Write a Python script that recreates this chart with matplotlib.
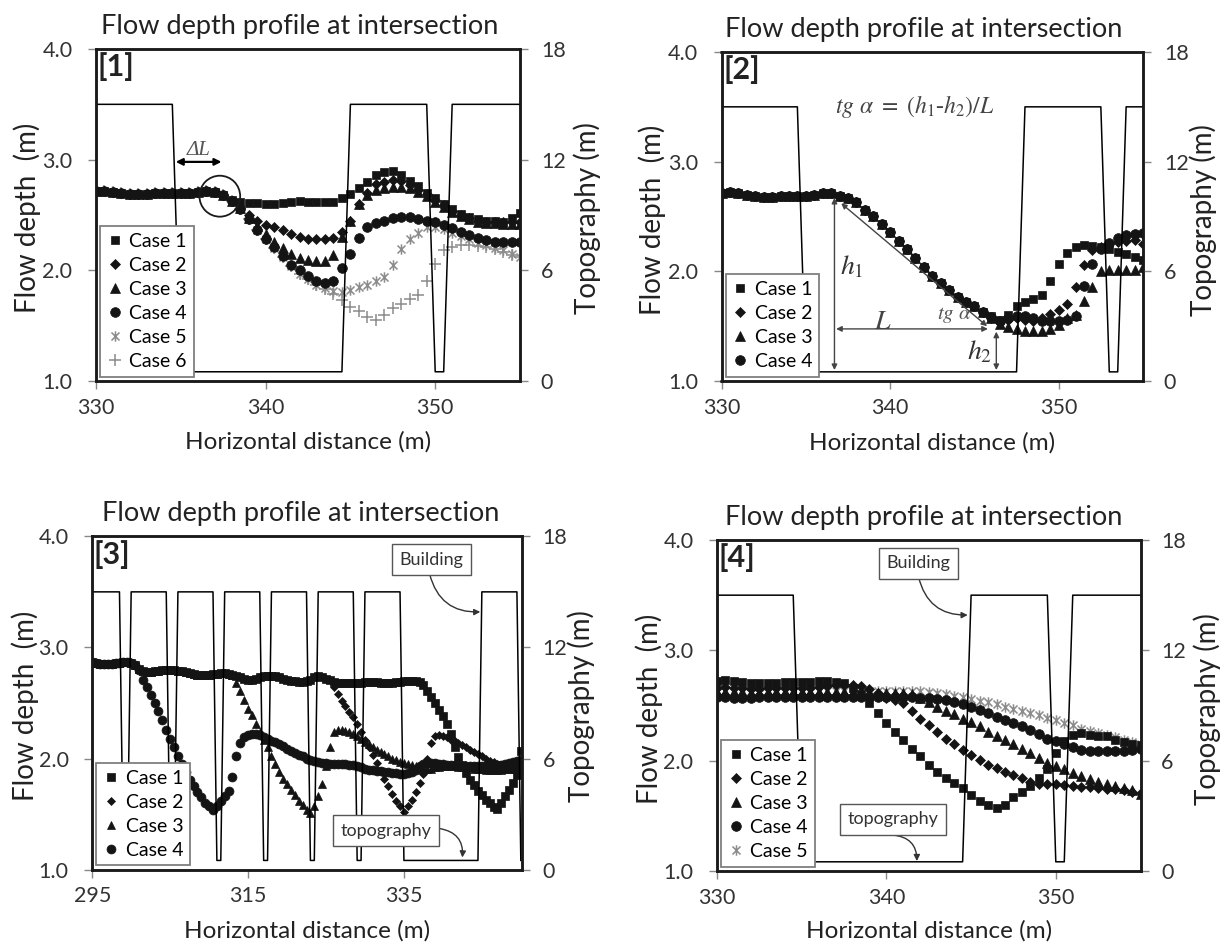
import numpy as np
import matplotlib
matplotlib.use("Agg")
import matplotlib.pyplot as plt
from matplotlib.patches import Ellipse
from matplotlib.path import Path
from matplotlib.ticker import FormatStrFormatter

plt.rcParams['font.family'] = ['Lato', 'DejaVu Sans']
plt.rcParams['mathtext.fontset'] = 'stix'

# ---------------- text ----------------
TITLE = "Flow depth profile at intersection"
XLABEL = "Horizontal distance (m)"
YLABEL = "Flow depth  (m)"
Y2LABEL = "Topography (m)"
CASE_LABELS = ["Case 1", "Case 2", "Case 3", "Case 4", "Case 5", "Case 6"]

# ---------------- panel 1 (x = 330 ... 355 every 0.5 m) ----------------
P1_X = np.arange(330.0, 355.01, 0.5)
P1_C1 = [2.72, 2.72, 2.71, 2.70, 2.69, 2.69, 2.69, 2.70, 2.70, 2.70,
         2.70, 2.70, 2.71, 2.72, 2.71, 2.68, 2.64, 2.62, 2.61, 2.61,
         2.60, 2.60, 2.61, 2.62, 2.63, 2.62, 2.62, 2.62, 2.62, 2.65,
         2.69, 2.74, 2.80, 2.86, 2.89, 2.90, 2.86, 2.81, 2.76, 2.70,
         2.65, 2.60, 2.55, 2.51, 2.48, 2.46, 2.45, 2.45, 2.44, 2.47,
         2.52]
P1_C2 = [2.72, 2.72, 2.71, 2.70, 2.69, 2.69, 2.69, 2.70, 2.70, 2.70,
         2.70, 2.70, 2.71, 2.72, 2.71, 2.68, 2.63, 2.56, 2.50, 2.45,
         2.41, 2.39, 2.36, 2.33, 2.30, 2.28, 2.28, 2.28, 2.29, 2.35,
         2.45, 2.60, 2.70, 2.78, 2.80, 2.82, 2.81, 2.77, 2.73, 2.69,
         2.64, 2.59, 2.54, 2.50, 2.47, 2.45, 2.44, 2.44, 2.44, 2.44,
         2.44]
P1_C3 = [2.72, 2.72, 2.71, 2.70, 2.69, 2.69, 2.69, 2.70, 2.70, 2.70,
         2.70, 2.70, 2.71, 2.72, 2.71, 2.68, 2.63, 2.56, 2.47, 2.40,
         2.33, 2.26, 2.20, 2.15, 2.11, 2.09, 2.08, 2.08, 2.14, 2.30,
         2.45, 2.60, 2.68, 2.73, 2.74, 2.75, 2.75, 2.74, 2.71, 2.67,
         2.62, 2.57, 2.53, 2.49, 2.46, 2.44, 2.43, 2.43, 2.42, 2.42,
         2.42]
P1_C4 = [2.72, 2.72, 2.71, 2.70, 2.69, 2.69, 2.69, 2.70, 2.70, 2.70,
         2.70, 2.70, 2.71, 2.72, 2.71, 2.68, 2.63, 2.55, 2.46, 2.36,
         2.28, 2.21, 2.13, 2.05, 2.00, 1.95, 1.90, 1.89, 1.90, 2.02,
         2.15, 2.29, 2.39, 2.43, 2.45, 2.47, 2.48, 2.48, 2.46, 2.45,
         2.44, 2.41, 2.38, 2.35, 2.32, 2.29, 2.27, 2.26, 2.26, 2.26,
         2.26]
P1_C5 = [2.72, 2.72, 2.71, 2.70, 2.69, 2.69, 2.69, 2.70, 2.70, 2.70,
         2.70, 2.70, 2.71, 2.72, 2.71, 2.68, 2.63, 2.55, 2.46, 2.36,
         2.28, 2.20, 2.12, 2.04, 1.97, 1.92, 1.87, 1.84, 1.81, 1.80,
         1.82, 1.85, 1.87, 1.90, 1.94, 2.05, 2.19, 2.28, 2.34, 2.39,
         2.39, 2.37, 2.34, 2.31, 2.28, 2.25, 2.23, 2.20, 2.18, 2.15,
         2.12]
P1_C6 = [2.72, 2.72, 2.71, 2.70, 2.69, 2.69, 2.69, 2.70, 2.70, 2.70,
         2.70, 2.70, 2.71, 2.72, 2.71, 2.68, 2.63, 2.55, 2.46, 2.36,
         2.28, 2.20, 2.12, 2.04, 1.97, 1.92, 1.87, 1.83, 1.79, 1.73,
         1.67, 1.63, 1.58, 1.55, 1.60, 1.66, 1.70, 1.74, 1.78, 1.90,
         2.06, 2.18, 2.21, 2.23, 2.23, 2.22, 2.21, 2.19, 2.17, 2.14,
         2.12]
P1_TOPO_X = [330, 334.5, 335.0, 344.5, 345.0, 349.5, 350.0, 350.5, 351.0, 355]
P1_TOPO_Z = [15, 15, 0.5, 0.5, 15, 15, 0.5, 0.5, 15, 15]

# ---------------- panel 2 ----------------
P2_X = np.arange(330.0, 355.01, 0.5)
P2_C1 = [2.71, 2.72, 2.71, 2.70, 2.69, 2.68, 2.68, 2.69, 2.69, 2.69,
         2.69, 2.70, 2.71, 2.71, 2.69, 2.67, 2.63, 2.56, 2.50, 2.43,
         2.36, 2.28, 2.20, 2.12, 2.04, 1.96, 1.89, 1.83, 1.77, 1.72,
         1.68, 1.63, 1.59, 1.56, 1.60, 1.68, 1.72, 1.75, 1.78, 1.91,
         2.07, 2.17, 2.22, 2.24, 2.23, 2.22, 2.20, 2.18, 2.16, 2.13,
         2.10]
P2_C2 = [2.71, 2.72, 2.71, 2.70, 2.69, 2.68, 2.68, 2.69, 2.69, 2.69,
         2.69, 2.70, 2.71, 2.71, 2.69, 2.67, 2.63, 2.56, 2.50, 2.43,
         2.36, 2.28, 2.20, 2.12, 2.04, 1.96, 1.89, 1.83, 1.77, 1.72,
         1.68, 1.63, 1.57, 1.54, 1.56, 1.57, 1.56, 1.55, 1.57, 1.61,
         1.65, 1.70, 1.86, 2.06, 2.19, 2.22, 2.25, 2.27, 2.28, 2.29,
         2.25]
P2_C3 = [2.71, 2.72, 2.71, 2.70, 2.69, 2.68, 2.68, 2.69, 2.69, 2.69,
         2.69, 2.70, 2.71, 2.71, 2.69, 2.67, 2.63, 2.56, 2.50, 2.43,
         2.36, 2.28, 2.20, 2.12, 2.04, 1.96, 1.89, 1.83, 1.77, 1.72,
         1.68, 1.63, 1.57, 1.52, 1.49, 1.47, 1.46, 1.46, 1.46, 1.47,
         1.51, 1.57, 1.60, 1.73, 1.86, 2.00, 2.01, 2.01, 2.01, 2.01,
         2.04]
P2_C4 = [2.71, 2.72, 2.71, 2.70, 2.69, 2.68, 2.68, 2.69, 2.69, 2.69,
         2.69, 2.70, 2.71, 2.71, 2.69, 2.67, 2.63, 2.56, 2.50, 2.43,
         2.36, 2.28, 2.20, 2.12, 2.04, 1.96, 1.89, 1.83, 1.77, 1.72,
         1.68, 1.63, 1.58, 1.55, 1.57, 1.59, 1.59, 1.57, 1.55, 1.55,
         1.55, 1.56, 1.59, 1.87, 2.07, 2.20, 2.26, 2.30, 2.33, 2.34,
         2.35]
P2_TOPO_X = [330, 334.5, 335.0, 347.5, 348.0, 352.5, 353.0, 353.5, 354.0, 355]
P2_TOPO_Z = [15, 15, 0.5, 0.5, 15, 15, 0.5, 0.5, 15, 15]

# ---------------- panel 3 (x = 295 ... 350 every 0.5 m) ----------------
P3_X = np.arange(295.0, 350.01, 0.5)
P3_C1 = [2.87, 2.86, 2.85, 2.85, 2.85, 2.85, 2.86, 2.86, 2.87, 2.87,
         2.86, 2.84, 2.81, 2.79, 2.78, 2.78, 2.79, 2.79, 2.80, 2.80,
         2.80, 2.80, 2.79, 2.79, 2.78, 2.77, 2.76, 2.75, 2.75, 2.75,
         2.75, 2.76, 2.76, 2.77, 2.77, 2.76, 2.75, 2.74, 2.73, 2.72,
         2.71, 2.71, 2.72, 2.73, 2.74, 2.74, 2.74, 2.74, 2.73, 2.72,
         2.71, 2.70, 2.70, 2.69, 2.69, 2.70, 2.71, 2.73, 2.74, 2.73,
         2.72, 2.71, 2.69, 2.68, 2.68, 2.68, 2.68, 2.68, 2.68, 2.68,
         2.69, 2.69, 2.69, 2.69, 2.68, 2.68, 2.68, 2.68, 2.69, 2.69,
         2.70, 2.70, 2.70, 2.70, 2.69, 2.66, 2.61, 2.55, 2.50, 2.44,
         2.38, 2.31, 2.22, 2.10, 2.01, 1.94, 1.87, 1.81, 1.76, 1.71,
         1.67, 1.63, 1.60, 1.56, 1.55, 1.60, 1.66, 1.72, 1.78, 1.85,
         2.07]
P3_C2 = [2.87, 2.86, 2.85, 2.85, 2.85, 2.85, 2.86, 2.86, 2.87, 2.87,
         2.86, 2.84, 2.81, 2.79, 2.78, 2.78, 2.79, 2.79, 2.80, 2.80,
         2.80, 2.80, 2.79, 2.79, 2.78, 2.77, 2.76, 2.75, 2.75, 2.75,
         2.75, 2.76, 2.76, 2.77, 2.77, 2.76, 2.75, 2.74, 2.73, 2.72,
         2.71, 2.71, 2.72, 2.73, 2.74, 2.74, 2.74, 2.74, 2.73, 2.72,
         2.71, 2.70, 2.70, 2.69, 2.69, 2.70, 2.71, 2.73, 2.74, 2.73,
         2.72, 2.71, 2.64, 2.58, 2.52, 2.47, 2.42, 2.37, 2.31, 2.24,
         2.17, 2.10, 2.03, 1.96, 1.89, 1.82, 1.75, 1.68, 1.62, 1.57,
         1.52, 1.57, 1.63, 1.70, 1.78, 1.86, 2.00, 2.14, 2.20, 2.21,
         2.20, 2.19, 2.17, 2.16, 2.14, 2.12, 2.10, 2.08, 2.06, 2.04,
         2.02, 2.00, 1.98, 1.97, 1.95, 1.94, 1.93, 1.93, 1.93, 1.94,
         1.96]
P3_C3 = [2.87, 2.86, 2.85, 2.85, 2.85, 2.85, 2.86, 2.86, 2.87, 2.87,
         2.86, 2.84, 2.81, 2.79, 2.78, 2.78, 2.79, 2.79, 2.80, 2.80,
         2.80, 2.80, 2.79, 2.79, 2.78, 2.77, 2.76, 2.75, 2.75, 2.75,
         2.75, 2.76, 2.76, 2.77, 2.77, 2.76, 2.75, 2.68, 2.61, 2.53,
         2.45, 2.39, 2.31, 2.24, 2.17, 2.10, 2.02, 1.95, 1.88, 1.82,
         1.77, 1.72, 1.67, 1.62, 1.58, 1.54, 1.51, 1.57, 1.66, 1.77,
         1.93, 2.10, 2.24, 2.26, 2.26, 2.25, 2.24, 2.22, 2.20, 2.18,
         2.15, 2.13, 2.10, 2.08, 2.06, 2.04, 2.02, 2.00, 1.99, 1.97,
         1.96, 1.95, 1.94, 1.93, 1.92, 1.91, 1.91, 1.91, 1.92, 1.92,
         1.93, 1.93, 1.93, 1.93, 1.92, 1.92, 1.92, 1.92, 1.91, 1.91,
         1.91, 1.90, 1.90, 1.90, 1.90, 1.90, 1.91, 1.91, 1.91, 1.92,
         1.93]
P3_C4 = [2.87, 2.86, 2.85, 2.85, 2.85, 2.85, 2.86, 2.86, 2.87, 2.87,
         2.86, 2.84, 2.80, 2.71, 2.64, 2.57, 2.50, 2.43, 2.35, 2.26,
         2.18, 2.10, 2.02, 1.95, 1.88, 1.81, 1.75, 1.70, 1.65, 1.60,
         1.57, 1.54, 1.57, 1.62, 1.66, 1.71, 1.83, 2.02, 2.14, 2.19,
         2.21, 2.22, 2.22, 2.21, 2.19, 2.18, 2.16, 2.15, 2.13, 2.11,
         2.09, 2.07, 2.05, 2.03, 2.02, 2.00, 1.99, 1.98, 1.97, 1.96,
         1.96, 1.95, 1.95, 1.95, 1.95, 1.95, 1.94, 1.94, 1.93, 1.92,
         1.91, 1.90, 1.90, 1.89, 1.89, 1.88, 1.88, 1.87, 1.87, 1.86,
         1.86, 1.87, 1.88, 1.90, 1.93, 1.95, 1.96, 1.96, 1.96, 1.95,
         1.95, 1.94, 1.94, 1.94, 1.93, 1.93, 1.93, 1.93, 1.93, 1.93,
         1.93, 1.93, 1.93, 1.94, 1.94, 1.94, 1.95, 1.96, 1.97, 1.98,
         1.99]
P3_TOPO_X = [295, 298.5, 299.0, 299.5, 300.0, 304.5, 305.0, 305.5, 306.0,
             310.5, 311.0, 311.5, 312.0, 316.5, 317.0, 317.5, 318.0,
             322.5, 323.0, 323.5, 324.0, 328.5, 329.0, 329.5, 330.0,
             334.5, 335.0, 344.5, 345.0, 349.5, 350.0]
P3_TOPO_Z = [15, 15, 0.5, 0.5, 15, 15, 0.5, 0.5, 15,
             15, 0.5, 0.5, 15, 15, 0.5, 0.5, 15,
             15, 0.5, 0.5, 15, 15, 0.5, 0.5, 15,
             15, 0.5, 0.5, 15, 15, 0.5]

# ---------------- panel 4 ----------------
P4_X = np.arange(330.0, 355.01, 0.5)
P4_C1 = [2.72, 2.73, 2.72, 2.71, 2.70, 2.70, 2.70, 2.70, 2.71, 2.71,
         2.71, 2.71, 2.72, 2.72, 2.71, 2.70, 2.66, 2.60, 2.52, 2.43,
         2.34, 2.26, 2.19, 2.11, 2.04, 1.96, 1.90, 1.84, 1.80, 1.75,
         1.69, 1.63, 1.60, 1.57, 1.60, 1.67, 1.72, 1.77, 1.84, 1.92,
         2.07, 2.18, 2.23, 2.25, 2.23, 2.22, 2.22, 2.19, 2.17, 2.15,
         2.14]
P4_C2 = [2.66, 2.67, 2.66, 2.66, 2.65, 2.65, 2.66, 2.66, 2.66, 2.66,
         2.66, 2.66, 2.67, 2.68, 2.69, 2.69, 2.69, 2.68, 2.65, 2.61,
         2.57, 2.55, 2.52, 2.45, 2.38, 2.32, 2.26, 2.20, 2.15, 2.10,
         2.05, 2.01, 1.96, 1.93, 1.90, 1.87, 1.84, 1.81, 1.79, 1.79,
         1.79, 1.78, 1.77, 1.76, 1.76, 1.75, 1.74, 1.74, 1.73, 1.72,
         1.71]
P4_C3 = [2.62, 2.62, 2.62, 2.62, 2.61, 2.61, 2.62, 2.62, 2.62, 2.62,
         2.62, 2.62, 2.62, 2.62, 2.62, 2.62, 2.62, 2.62, 2.62, 2.61,
         2.61, 2.61, 2.61, 2.60, 2.57, 2.53, 2.49, 2.45, 2.42, 2.38,
         2.35, 2.31, 2.26, 2.22, 2.19, 2.15, 2.11, 2.07, 2.02, 1.98,
         1.95, 1.92, 1.89, 1.86, 1.83, 1.81, 1.79, 1.77, 1.75, 1.73,
         1.70]
P4_C4 = [2.58, 2.58, 2.57, 2.57, 2.57, 2.58, 2.58, 2.58, 2.58, 2.58,
         2.58, 2.58, 2.58, 2.58, 2.58, 2.58, 2.58, 2.58, 2.58, 2.58,
         2.58, 2.58, 2.58, 2.58, 2.57, 2.57, 2.56, 2.55, 2.53, 2.51,
         2.49, 2.46, 2.43, 2.40, 2.37, 2.34, 2.31, 2.28, 2.24, 2.20,
         2.18, 2.15, 2.12, 2.10, 2.09, 2.09, 2.09, 2.09, 2.09, 2.10,
         2.11]
P4_C5 = [2.63, 2.63, 2.63, 2.63, 2.63, 2.63, 2.63, 2.63, 2.63, 2.63,
         2.63, 2.63, 2.63, 2.63, 2.63, 2.63, 2.63, 2.63, 2.63, 2.63,
         2.63, 2.63, 2.63, 2.63, 2.63, 2.62, 2.61, 2.60, 2.59, 2.58,
         2.56, 2.54, 2.53, 2.51, 2.49, 2.47, 2.45, 2.43, 2.41, 2.39,
         2.37, 2.34, 2.32, 2.29, 2.27, 2.25, 2.23, 2.21, 2.19, 2.17,
         2.15]
P4_TOPO_X = [330, 334.5, 335.0, 344.5, 345.0, 349.5, 350.0, 350.5, 351.0, 355]
P4_TOPO_Z = [15, 15, 0.5, 0.5, 15, 15, 0.5, 0.5, 15, 15]

# ---------------- styles ----------------
STAR = Path([(-1, -1), (1, 1), (-1, 1), (1, -1), (0, -1.3), (0, 1.3)],
            [Path.MOVETO, Path.LINETO, Path.MOVETO, Path.LINETO, Path.MOVETO, Path.LINETO])
DARK = '#141414'
GREY = '#8c8c8c'
MK = [dict(marker='s', ms=6.0, mfc=DARK, mec=DARK, mew=0.5),
      dict(marker='D', ms=4.6, mfc=DARK, mec=DARK, mew=0.5),
      dict(marker='^', ms=6.6, mfc=DARK, mec=DARK, mew=0.5),
      dict(marker='o', ms=7.0, mfc=DARK, mec=DARK, mew=0.5),
      dict(marker=STAR, ms=7.5, mfc='none', mec=GREY, mew=1.1),
      dict(marker='+', ms=8.5, mfc='none', mec=GREY, mew=1.1)]

TICK_FS = 15.5
fig = plt.figure(figsize=(12.26, 9.46), dpi=100)
FW, FH = 1226.0, 946.0


def rect(l, r, t, b):
    return [l / FW, 1 - b / FH, (r - l) / FW, (b - t) / FH]


def panel(rc, xlim, xticks, xs, series, tx, tz, tag, ylx, y2x, xly, tx_title, mscale=1.0):
    ax = fig.add_axes(rc)
    ax2 = ax.twinx()
    handles = [None] * len(series)
    for i in reversed(range(len(series))):
        st = dict(MK[i])
        st['ms'] = st['ms'] * mscale
        h, = ax.plot(xs, series[i], ls='none', label=CASE_LABELS[i], zorder=10 - i, **st)
        handles[i] = h
    ax2.plot(tx, tz, color='black', lw=1.1, zorder=2)
    ax.set_xlim(*xlim)
    ax.set_ylim(1.0, 4.0)
    ax2.set_ylim(0, 18)
    ax.set_xticks(xticks)
    ax.set_yticks([1.0, 2.0, 3.0, 4.0])
    ax.yaxis.set_major_formatter(FormatStrFormatter('%.1f'))
    ax2.set_yticks([0, 6, 12, 18])
    for a in (ax, ax2):
        for sp in a.spines.values():
            sp.set_linewidth(1.8)
            sp.set_color('#1a1a1a')
    ax.tick_params(axis='x', direction='out', length=6, width=1, color='#888888',
                   labelsize=TICK_FS, pad=6, labelcolor='#333333')
    ax.tick_params(axis='y', direction='out', length=6, width=1, color='#888888',
                   labelsize=TICK_FS, pad=11, labelcolor='#333333')
    ax2.tick_params(axis='y', direction='out', length=6, width=1, color='#888888',
                    labelsize=TICK_FS, pad=9, labelcolor='#333333')
    t = ax.set_title(TITLE, fontsize=19.5, pad=11, color='#222222')
    t.set_x(tx_title)
    ax.set_xlabel(XLABEL, fontsize=17.5, color='#222222')
    ax.set_ylabel(YLABEL, fontsize=20, color='#222222')
    ax2.set_ylabel(Y2LABEL, fontsize=20, color='#222222')
    ax.xaxis.set_label_coords(0.5, xly)
    ax.xaxis.label.set_verticalalignment('center')
    ax.yaxis.set_label_coords(ylx, 0.49)
    ax.yaxis.label.set_verticalalignment('center')
    ax2.yaxis.set_label_coords(y2x, 0.49)
    ax2.yaxis.label.set_verticalalignment('center')
    ax2.text(0.004, 0.99, tag, transform=ax2.transAxes, fontsize=22,
             fontweight='bold', va='top', ha='left', color='#222222', zorder=20)
    leg = ax2.legend(handles, [h.get_label() for h in handles], loc='lower left',
                     fontsize=14, borderaxespad=0.22, fancybox=False, framealpha=1,
                     edgecolor='#7f7f7f', handlelength=0.8, handletextpad=0.35,
                     labelspacing=0.36, borderpad=0.35)
    leg.get_frame().set_linewidth(1.3)
    leg.set_zorder(30)
    return ax, ax2


def arrow(ax2, T, p0, p1, style='<|-|>', color='#444444', lw=1.0, ms=8, rad=None):
    props = dict(arrowstyle=style, color=color, lw=lw, mutation_scale=ms,
                 shrinkA=0, shrinkB=0)
    if rad is not None:
        props['connectionstyle'] = 'arc3,rad=%s' % rad
    ax2.annotate('', xy=p1, xytext=p0, xycoords=T, textcoords=T, arrowprops=props,
                 zorder=25)


def boxed(ax2, T, p, s):
    ax2.text(p[0], p[1], s, transform=T, fontsize=13, ha='center', va='center',
             color='#333333', zorder=26,
             bbox=dict(boxstyle='square,pad=0.42', fc='white', ec='#555555', lw=1.0))


SERIF = ['Liberation Serif', 'DejaVu Serif']

# ---- panel 1 ----
a1, b1 = panel(rect(96, 520, 49, 381), (330, 355), [330, 340, 350], P1_X,
               [P1_C1, P1_C2, P1_C3, P1_C4, P1_C5, P1_C6], P1_TOPO_X, P1_TOPO_Z,
               '[1]', -0.163, 1.158, -0.184, 0.481)
T1 = a1.transData
arrow(b1, T1, (334.7, 2.98), (337.4, 2.98), color='black', lw=1.6, ms=10)
b1.text(336.05, 3.0, 'ΔL', transform=T1, fontsize=15, family=SERIF, style='italic',
        color='#555555', ha='center', va='bottom', zorder=25)
a1.add_patch(Ellipse((337.3, 2.67), width=2.4, height=0.37, fill=False,
                     ec='#1a1a1a', lw=1.3, zorder=15))

# ---- panel 2 ----
a2, b2 = panel(rect(721.5, 1143, 52, 381), (330, 355), [330, 340, 350], P2_X,
               [P2_C1, P2_C2, P2_C3, P2_C4], P2_TOPO_X, P2_TOPO_Z,
               '[2]', -0.165, 1.142, -0.188, 0.480)
T2 = a2.transData
b2.text(341.45, 3.50, r'$tg\ \alpha\ =\ (h_1$' + '-' + r'$h_2)/L$', transform=T2,
        fontsize=17, family=SERIF, style='italic', color='#444444',
        ha='center', va='center', zorder=25)
arrow(b2, T2, (336.7, 2.67), (336.7, 1.10))
arrow(b2, T2, (337.1, 2.62), (345.75, 1.50))
arrow(b2, T2, (336.8, 1.475), (345.8, 1.475))
arrow(b2, T2, (346.3, 1.45), (346.3, 1.10))
b2.text(337.7, 2.04, r'$h_1$', transform=T2, fontsize=20, color='#333333',
        ha='center', va='center', zorder=25)
b2.text(339.6, 1.55, r'$L$', transform=T2, fontsize=20, color='#444444',
        ha='center', va='center', zorder=25)
b2.text(343.8, 1.60, r'$tg\ \alpha$', transform=T2, fontsize=15, color='#555555',
        ha='center', va='center', zorder=25)
b2.text(345.3, 1.27, r'$h_2$', transform=T2, fontsize=20, color='#333333',
        ha='center', va='center', zorder=25)

# ---- panel 3 ----
a3, b3 = panel(rect(92.2, 521.6, 536.3, 869.7), (295, 350.1), [295, 315, 335], P3_X,
               [P3_C1, P3_C2, P3_C3, P3_C4], P3_TOPO_X, P3_TOPO_Z,
               '[3]', -0.155, 1.138, -0.184, 0.485, mscale=0.92)
T3 = a3.transData
boxed(b3, T3, (338.5, 3.79), 'Building')
arrow(b3, T3, (338.3, 3.66), (344.8, 3.32), style='-|>', color='#333333', ms=9, rad=0.4)
boxed(b3, T3, (332.7, 1.35), 'topography')
arrow(b3, T3, (339.6, 1.37), (342.5, 1.11), style='-|>', color='#333333', ms=9, rad=-0.45)

# ---- panel 4 ----
a4, b4 = panel(rect(717, 1140.5, 540, 871), (330, 355), [330, 340, 350], P4_X,
               [P4_C1, P4_C2, P4_C3, P4_C4, P4_C5], P4_TOPO_X, P4_TOPO_Z,
               '[4]', -0.16, 1.157, -0.181, 0.489)
T4 = a4.transData
boxed(b4, T4, (341.9, 3.79), 'Building')
arrow(b4, T4, (341.9, 3.665), (344.8, 3.32), style='-|>', color='#333333', ms=9, rad=0.4)
boxed(b4, T4, (340.4, 1.47), 'topography')
arrow(b4, T4, (340.4, 1.325), (341.8, 1.09), style='-|>', color='#333333', ms=9, rad=-0.45)

fig.savefig('out.png', dpi=100, facecolor='white')
